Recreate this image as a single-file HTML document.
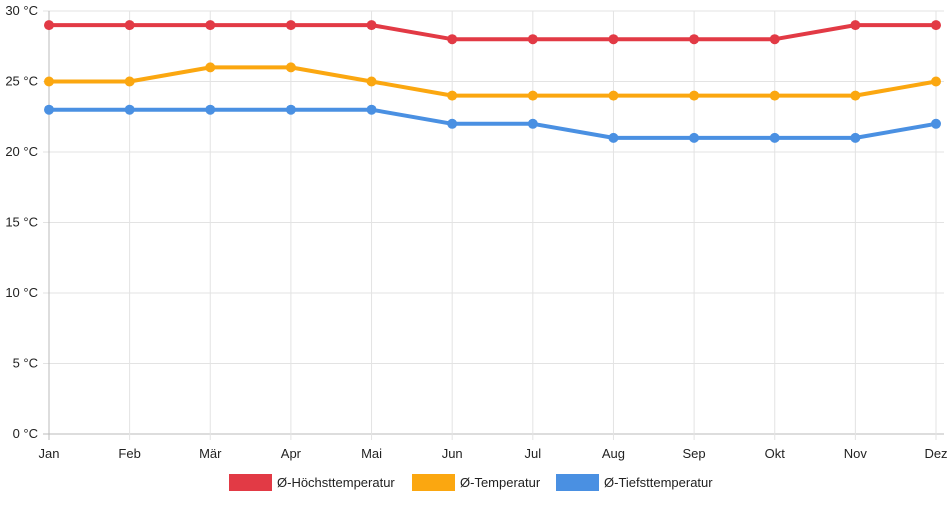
<!DOCTYPE html>
<html><head><meta charset="utf-8"><style>
body{margin:0;background:#fff;font-family:"Liberation Sans",sans-serif}
svg text{font-family:"Liberation Sans",sans-serif;font-size:13px;fill:#222}
</style></head><body>
<svg id="c" width="952" height="500">
<g id="grid"></g>
<g id="axes"></g>
<g id="series"></g>
<g id="legend"></g>
</svg>
<script>
const months=["Jan","Feb","Mär","Apr","Mai","Jun","Jul","Aug","Sep","Okt","Nov","Dez"];
const yTicks=[0,5,10,15,20,25,30];
const highTemps=[29,29,29,29,29,28,28,28,28,28,29,29];
const avgTemps=[25,25,26,26,25,24,24,24,24,24,24,25];
const lowTemps=[23,23,23,23,23,22,22,21,21,21,21,22];
const seriesNames=["Ø-Höchsttemperatur","Ø-Temperatur","Ø-Tiefsttemperatur"];
const colors=["#e23a45","#fba710","#4a90e2"];
const NS="http://www.w3.org/2000/svg";
const x0=49,x1=936,yTop=11,yBot=434;
const xs=i=>x0+i*(x1-x0)/(months.length-1);
const ys=v=>yBot-(v/30)*(yBot-yTop);
function mk(tag,attrs,parent){const e=document.createElementNS(NS,tag);for(const k in attrs)e.setAttribute(k,attrs[k]);parent.appendChild(e);return e;}
const grid=document.getElementById('grid'),axes=document.getElementById('axes'),ser=document.getElementById('series'),leg=document.getElementById('legend');
yTicks.forEach(t=>{
 const l=mk('line',{x1:x0-6,x2:x1+8,y1:ys(t),y2:ys(t),stroke:t===0?'#bbb':'#e3e3e3','stroke-width':1},grid);
 
 
 const tx=mk('text',{x:38,y:ys(t)+4,'text-anchor':'end'},axes);
 tx.textContent=t+' °C';
 
 
});
months.forEach((m,i)=>{
 const l=mk('line',{x1:xs(i),x2:xs(i),y1:yTop,y2:yBot+6,stroke:i===0?'#bbb':'#e3e3e3','stroke-width':1},grid);
 
 
 const tx=mk('text',{x:xs(i),y:458,'text-anchor':'middle'},axes);
 tx.textContent=m;
 
 
});
[highTemps,avgTemps,lowTemps].forEach((d,s)=>{
 const p=mk('polyline',{points:d.map((v,i)=>xs(i)+','+ys(v)).join(' '),fill:'none',stroke:colors[s],'stroke-width':4,'stroke-linejoin':'round'},ser);
 
 
 d.forEach((v,i)=>{
  const c=mk('circle',{cx:xs(i),cy:ys(v),r:5,fill:colors[s]},ser);
  
  
 });
});
const legX=[229,412,556];
seriesNames.forEach((n,s)=>{
 const r=mk('rect',{x:legX[s],y:474,width:43,height:17,fill:colors[s]},leg);
 
 
 const t=mk('text',{x:legX[s]+48,y:487},leg);
 t.textContent=n;
 
 
});
</script>
</body></html>
